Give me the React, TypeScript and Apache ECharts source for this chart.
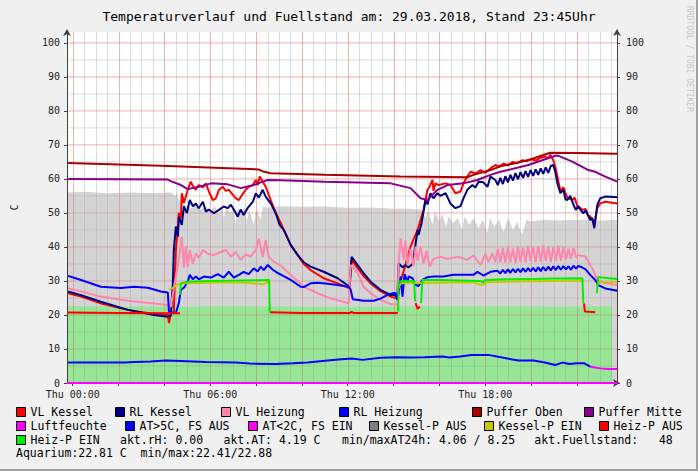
import React, { useEffect, useRef } from 'react';
import * as echarts from 'echarts';

const FONT = 'DejaVu Sans Mono';
const TITLE = 'Temperaturverlauf und Fuellstand am: 29.03.2018, Stand 23:45Uhr';
const X_MIN = -0.25;
const X_MAX = 23.75;
const Y_MAX = 103.2;
const xLabelHours = [0, 6, 12, 18];
const xTickHours = [0, 2, 4, 6, 8, 10, 12, 14, 16, 18, 20, 22];
const dayName = 'Thu';

type P = [number, number | null];

const grayArea: P[] = [[-0.25,56.0],[0.5,56.2],[1.5,55.8],[2.5,56.0],[3.5,55.9],[4.3,56.0],[4.45,55.0],[4.55,56.0],[4.65,53.0],[4.75,55.5],[4.85,52.5],[5.0,52.0],[5.2,51.5],[5.4,52.5],[5.6,51.0],[5.8,52.0],[6.0,50.5],[6.2,52.0],[6.4,49.5],[6.5,52.0],[6.6,48.5],[6.7,51.5],[6.9,50.0],[7.0,52.0],[7.1,47.0],[7.2,51.5],[7.4,50.0],[7.5,52.0],[7.6,47.5],[7.7,51.0],[7.9,46.5],[8.0,51.5],[8.2,48.0],[8.3,52.0],[8.5,51.5],[9.0,52.0],[10.0,51.8],[11.0,51.9],[12.0,51.5],[13.0,51.6],[14.0,51.2],[14.5,51.3],[15.2,51.0],[15.4,48.5],[15.5,51.0],[15.7,46.5],[15.8,50.5],[16.0,47.5],[16.1,50.0],[16.3,46.0],[16.4,49.0],[16.6,47.0],[16.8,48.5],[17.0,45.0],[17.1,49.0],[17.3,46.5],[17.5,48.5],[17.7,45.5],[17.9,48.0],[18.1,44.0],[18.2,48.5],[18.4,46.0],[18.6,48.0],[18.8,44.5],[19.0,48.5],[19.2,45.0],[19.4,47.5],[19.6,43.5],[19.8,48.0],[20.0,47.5],[20.5,48.0],[21.0,47.8],[22.0,48.0],[23.0,47.8],[23.76,48.0]];

const greenArea: P[] = [[-0.25,22.6],[2.0,22.5],[4.5,22.4],[6.0,22.6],[9.0,22.5],[12.0,22.4],[15.0,22.6],[18.0,22.6],[21.0,22.5],[23.54,22.6]];

const vlKessel: P[] = [[-0.20,26.4],[0.36,25.4],[1.23,23.4],[2.10,22.0],[2.41,21.5],[3.54,20.3],[4.15,20.0],[4.20,17.6],[4.28,20.5],[4.41,20.6],[4.50,39.0],[4.59,46.0],[4.63,50.0],[4.72,48.5],[4.76,55.8],[4.85,52.9],[5.02,56.8],[5.15,59.2],[5.24,58.0],[5.37,56.8],[5.50,58.2],[5.68,57.5],[5.81,58.7],[5.94,56.3],[6.11,53.8],[6.24,54.2],[6.38,56.8],[6.55,57.7],[6.68,56.5],[6.81,56.8],[6.99,55.3],[7.12,54.3],[7.25,53.8],[7.42,55.6],[7.55,56.8],[7.68,57.7],[7.86,58.2],[7.99,59.7],[8.07,58.2],[8.16,60.7],[8.29,59.2],[8.42,57.7],[8.64,53.8],[8.86,50.0],[9.08,47.0],[9.21,45.0],[9.51,40.6],[9.82,37.6],[10.08,35.0],[10.38,33.2],[10.95,30.8],[11.56,29.3],[12.08,27.8],[12.17,36.2],[12.43,33.8],[12.69,31.5],[13.00,29.3],[13.43,27.0],[13.87,25.4],[14.17,24.8],[14.22,26.4],[14.31,30.0],[14.52,34.7],[14.74,40.1],[15.05,45.0],[15.31,51.0],[15.48,56.8],[15.57,57.7],[15.70,59.7],[15.74,56.5],[15.83,58.7],[15.96,58.2],[16.27,58.7],[16.48,58.2],[16.70,55.8],[16.92,56.3],[17.05,58.7],[17.22,60.7],[17.36,62.1],[17.57,61.6],[17.79,62.6],[18.01,61.8],[18.23,63.1],[18.44,64.1],[18.6,63.6],[18.8,64.5],[19.0,64.0],[19.2,65.0],[19.4,64.6],[19.6,65.5],[19.8,65.2],[20.0,65.8],[20.2,65.4],[20.4,66.2],[20.62,66.6],[20.75,66.0],[20.84,67.1],[20.97,65.5],[21.06,63.5],[21.15,60.7],[21.28,56.5],[21.41,57.5],[21.58,54.5],[21.80,53.8],[21.90,54.5],[22.02,52.0],[22.15,51.5],[22.24,50.9],[22.37,51.2],[22.47,49.4],[22.58,49.0],[22.67,48.2],[22.76,46.5],[22.89,51.4],[23.02,52.8],[23.24,53.3],[23.76,52.8]];

const rlKessel: P[] = [[-0.20,26.9],[0.36,25.8],[1.23,23.9],[2.41,21.5],[3.54,20.0],[4.15,19.5],[4.28,19.8],[4.37,29.4],[4.41,39.0],[4.50,46.0],[4.59,43.0],[4.63,48.9],[4.76,46.5],[4.85,51.9],[4.98,50.0],[5.11,53.8],[5.24,52.0],[5.37,52.8],[5.50,51.4],[5.68,53.3],[5.81,50.4],[5.94,51.0],[6.16,49.9],[6.38,50.9],[6.59,51.9],[6.77,51.4],[6.90,52.4],[7.03,51.0],[7.20,48.9],[7.33,51.0],[7.46,49.4],[7.64,51.5],[7.86,53.3],[7.99,55.8],[8.12,54.5],[8.29,56.8],[8.42,54.8],[8.64,52.8],[8.86,49.9],[9.03,46.5],[9.21,45.0],[9.51,40.6],[9.82,37.6],[10.08,35.5],[10.38,34.2],[10.95,32.7],[11.56,30.8],[12.08,28.3],[12.17,37.1],[12.43,34.7],[12.69,32.3],[13.00,29.8],[13.43,27.4],[13.87,25.9],[14.00,25.9],[14.17,25.4],[14.22,35.2],[14.39,34.0],[14.52,34.7],[14.65,34.0],[14.83,35.0],[14.92,39.1],[15.05,45.0],[15.09,43.5],[15.22,47.0],[15.31,50.4],[15.39,53.8],[15.48,52.5],[15.61,55.8],[15.74,54.3],[15.92,55.8],[16.05,55.0],[16.27,55.8],[16.48,52.8],[16.70,51.4],[16.92,52.0],[17.05,54.3],[17.22,56.8],[17.44,58.2],[17.57,57.5],[17.71,59.2],[17.92,59.0],[18.10,57.7],[18.23,60.7],[18.44,59.7],[18.55,58.2],[18.66,60.3],[18.77,58.5],[18.88,60.8],[18.99,59.0],[19.10,61.2],[19.21,59.5],[19.32,61.7],[19.43,59.9],[19.54,62.0],[19.65,60.3],[19.76,62.3],[19.87,60.6],[19.98,62.6],[20.09,60.9],[20.20,62.8],[20.31,61.2],[20.42,63.1],[20.53,61.5],[20.64,63.4],[20.75,61.8],[20.86,63.8],[20.97,64.1],[21.06,62.0],[21.15,58.7],[21.28,55.8],[21.41,56.8],[21.50,54.0],[21.58,53.8],[21.71,55.0],[21.85,52.4],[21.95,50.9],[22.06,52.0],[22.15,51.0],[22.28,49.9],[22.40,50.8],[22.47,49.5],[22.58,47.9],[22.67,48.5],[22.76,45.5],[22.89,52.4],[23.02,54.3],[23.24,54.8],[23.76,54.6]];

const vlHeizung: P[] = [[-0.20,27.9],[1.23,25.4],[2.41,24.2],[3.54,23.4],[4.15,22.9],[4.28,22.5],[4.50,31.3],[4.63,36.2],[4.76,43.0],[4.85,34.0],[4.94,40.1],[5.02,34.2],[5.11,39.1],[5.24,35.0],[5.37,38.1],[5.50,36.8],[5.68,39.1],[5.90,38.0],[6.16,37.6],[6.38,38.3],[6.68,39.1],[6.90,37.1],[7.12,38.5],[7.33,36.2],[7.55,37.8],[7.77,37.2],[7.99,39.1],[8.12,42.5],[8.29,37.0],[8.42,42.0],[8.55,37.1],[8.77,35.7],[9.08,34.5],[9.51,31.8],[10.08,28.3],[10.69,26.4],[11.25,24.9],[11.82,23.9],[12.04,23.4],[12.13,34.7],[12.43,32.3],[12.69,28.3],[13.00,26.4],[13.43,24.4],[13.87,23.2],[14.17,23.0],[14.22,35.2],[14.31,42.5],[14.44,36.2],[14.52,42.0],[14.61,34.5],[14.74,39.5],[14.87,34.2],[14.96,40.1],[15.05,36.0],[15.18,40.1],[15.31,35.0],[15.44,38.8],[15.57,34.2],[15.74,36.5],[16.05,37.1],[16.35,36.5],[16.79,37.1],[17.22,36.2],[17.49,37.5],[17.79,34.7],[18.01,38.0],[18.14,35.5],[18.31,38.2],[18.44,35.5],[18.55,39.5],[18.66,35.5],[18.77,39.8],[18.88,35.3],[18.99,40.0],[19.10,35.5],[19.21,39.6],[19.32,35.2],[19.43,40.1],[19.54,35.6],[19.65,39.8],[19.76,35.4],[19.87,40.3],[19.98,35.8],[20.09,40.0],[20.20,35.5],[20.31,40.2],[20.42,35.7],[20.53,40.4],[20.64,35.9],[20.75,40.1],[20.86,35.6],[20.97,39.9],[21.08,35.8],[21.19,40.3],[21.30,36.0],[21.41,40.0],[21.52,36.2],[21.63,39.5],[21.74,36.5],[21.85,39.8],[21.96,37.0],[22.06,37.6],[22.37,37.2],[22.67,33.7],[22.89,30.3],[23.24,29.3],[23.76,28.8]];

const rlHeizung: P[] = [[-0.20,31.5],[0.36,30.3],[1.23,28.3],[2.10,27.9],[2.67,28.3],[3.28,28.0],[3.85,26.9],[4.15,26.6],[4.20,20.8],[4.50,20.6],[4.63,23.5],[4.72,27.4],[4.85,28.0],[5.02,29.8],[5.11,31.8],[5.24,30.5],[5.37,31.3],[5.50,30.5],[5.72,31.3],[6.03,31.0],[6.33,32.0],[6.59,31.0],[6.81,32.7],[7.03,31.0],[7.25,31.8],[7.46,32.7],[7.68,32.0],[7.90,33.7],[8.07,32.8],[8.20,34.2],[8.34,33.2],[8.51,34.7],[8.73,33.3],[8.95,32.3],[9.08,31.9],[9.51,30.3],[9.95,28.3],[10.08,28.2],[10.38,29.3],[10.69,29.5],[11.12,29.2],[11.56,28.8],[12.04,28.3],[12.13,27.4],[12.22,24.6],[12.69,24.2],[13.13,24.2],[13.43,24.8],[13.74,25.9],[14.00,26.5],[14.09,26.4],[14.17,24.4],[14.31,31.3],[14.39,25.4],[14.48,32.0],[14.61,29.5],[14.65,31.3],[14.83,30.8],[14.96,28.8],[15.09,28.5],[15.26,30.3],[15.48,31.1],[15.74,31.3],[16.18,31.3],[16.61,31.8],[17.05,31.8],[17.49,31.8],[17.66,32.7],[17.92,31.6],[18.23,32.7],[18.53,33.0],[18.66,32.2],[18.77,33.3],[18.88,32.3],[18.99,33.4],[19.10,32.4],[19.21,33.5],[19.32,32.5],[19.43,33.6],[19.54,32.6],[19.65,33.7],[19.76,32.7],[19.87,33.8],[19.98,32.8],[20.09,33.9],[20.20,32.8],[20.31,34.0],[20.42,32.9],[20.53,34.1],[20.64,33.0],[20.75,34.2],[20.86,33.1],[20.97,34.3],[21.08,33.2],[21.19,34.4],[21.30,33.3],[21.41,34.4],[21.52,33.4],[21.63,34.3],[21.74,33.3],[21.85,34.5],[21.96,33.6],[22.06,34.4],[22.15,34.2],[22.37,33.5],[22.58,31.8],[22.80,30.3],[22.93,28.8],[23.24,27.8],[23.76,27.1]];

const pufferOben: P[] = [[-0.20,64.7],[3.85,63.9],[8.10,62.8],[8.30,62.2],[8.64,61.7],[11.0,61.2],[14.30,60.7],[17.20,60.5],[17.49,61.2],[18.23,62.6],[18.66,63.7],[19.30,64.6],[20.00,65.8],[20.60,67.2],[20.84,67.7],[22.0,67.6],[23.76,67.4]];

const pufferMitte: P[] = [[-0.20,60.0],[4.15,59.8],[4.30,59.3],[4.72,58.2],[5.02,57.0],[5.45,57.6],[6.03,58.7],[6.77,58.4],[7.33,57.3],[7.90,58.2],[8.20,59.0],[8.51,59.7],[9.08,59.6],[11.0,59.2],[13.87,58.7],[14.74,57.3],[15.18,54.3],[15.48,53.8],[15.92,56.8],[16.35,58.2],[17.05,58.7],[17.66,59.7],[18.23,61.2],[18.66,62.1],[19.88,64.1],[21.06,66.8],[21.20,66.8],[21.80,65.1],[22.50,62.6],[22.80,62.1],[23.24,60.7],[23.76,59.2]];

const luftfeuchte: P[] = [[-0.25,0.0],[12.0,0.0],[23.76,0.0]];

const atWarm: P[] = [[-0.20,6.0],[1.2,6.0],[2.32,6.0],[2.67,6.2],[3.4,6.3],[4.06,6.6],[5.0,6.4],[5.81,6.2],[7.12,6.0],[7.73,5.7],[8.86,5.6],[9.6,5.8],[10.25,6.0],[10.90,6.5],[11.6,6.9],[12.17,7.2],[12.65,6.8],[13.43,7.4],[14.09,7.6],[14.7,7.5],[15.35,7.6],[16.13,7.8],[16.44,7.5],[16.9,7.8],[17.40,8.2],[18.19,8.2],[18.8,7.4],[19.45,6.6],[20.11,6.6],[20.6,6.0],[21.06,5.3],[21.37,6.0],[21.67,5.6],[22.0,5.8],[22.33,5.8],[22.58,4.8]];

const atCold: P[] = [[22.58,4.8],[23.02,4.3],[23.40,4.1],[23.76,4.1]];

const kesselPAus: P[] = [];

const kesselPEin: P[] = [[4.20,27.4],[4.37,28.0],[4.59,29.0],[4.72,29.3],[5.5,29.4],[6.5,29.6],[7.5,29.5],[8.1,29.2],[8.3,29.0],[8.5,29.6],[8.6,29.7],[8.62,null],[14.22,28.0],[14.31,29.3],[15.0,29.4],[16.0,29.5],[17.5,29.6],[17.79,28.8],[17.92,29.0],[18.1,29.6],[19.0,29.8],[20.0,29.9],[21.0,30.0],[22.0,30.1],[22.30,30.1],[22.32,null],[22.89,29.0],[23.0,29.6],[23.76,29.6]];

const heizPAus: P[] = [[-0.25,20.7],[2.0,20.6],[4.15,20.5],[4.68,20.5],[4.70,null],[8.60,20.8],[10.0,20.6],[12.1,20.6],[12.17,20.9],[12.25,20.6],[14.19,20.6],[14.21,null],[14.96,23.5],[15.05,21.8],[15.15,22.5],[15.18,null],[22.31,23.4],[22.35,21.0],[22.80,20.8],[22.82,null]];

const heizPEin: P[] = [[4.68,26.0],[4.72,29.3],[5.0,29.8],[6.0,30.0],[7.0,30.1],[8.0,30.2],[8.57,30.3],[8.60,20.8],[8.62,null],[14.20,21.0],[14.22,29.8],[14.40,30.0],[14.90,29.9],[14.94,24.0],[14.96,null],[15.20,23.5],[15.26,30.3],[16.0,30.3],[17.79,30.0],[17.9,29.5],[18.0,30.3],[19.0,30.5],[20.0,30.6],[21.0,30.7],[22.24,30.8],[22.28,23.4],[22.30,null],[22.87,26.4],[22.93,31.2],[23.1,31.0],[23.76,30.6]];

const infoTexts = ['akt.rH: 0.00', 'akt.AT: 4.19 C', 'min/maxAT24h: 4.06 / 8.25', 'akt.Fuellstand:   48'];
const aquariumText = 'Aquarium:22.81 C  min/max:22.41/22.88';

const COLORS: Record<string, string> = {
  'VL Kessel': '#ff0000',
  'RL Kessel': '#000080',
  'VL Heizung': '#ff85aa',
  'RL Heizung': '#0000ff',
  'Puffer Oben': '#aa0000',
  'Puffer Mitte': '#880088',
  'Luftfeuchte': '#ff00ff',
  'AT>5C, FS AUS': '#0000ff',
  'AT<2C, FS EIN': '#ff00ff',
  'Kessel-P AUS': '#808080',
  'Kessel-P EIN': '#c8c800',
  'Heiz-P AUS': '#ff0000',
  'Heiz-P EIN': '#00f000',
};

const LINES: [string, P[]][] = [
  ['VL Kessel', vlKessel],
  ['RL Kessel', rlKessel],
  ['VL Heizung', vlHeizung],
  ['RL Heizung', rlHeizung],
  ['Puffer Oben', pufferOben],
  ['Puffer Mitte', pufferMitte],
  ['Luftfeuchte', luftfeuchte],
  ['AT>5C, FS AUS', atWarm],
  ['AT<2C, FS EIN', atCold],
  ['Kessel-P AUS', kesselPAus],
  ['Kessel-P EIN', kesselPEin],
  ['Heiz-P AUS', heizPAus],
  ['Heiz-P EIN', heizPEin],
];

// legend layout (name, left x, row center y)
const LEGEND_LAYOUT: [string, number, number][] = [
  ['VL Kessel', 16, 412], ['RL Kessel', 115, 412], ['VL Heizung', 221, 412], ['RL Heizung', 339, 412], ['Puffer Oben', 472, 412], ['Puffer Mitte', 584, 412],
  ['Luftfeuchte', 16, 426], ['AT>5C, FS AUS', 125, 426], ['AT<2C, FS EIN', 248, 426], ['Kessel-P AUS', 369, 426], ['Kessel-P EIN', 484, 426], ['Heiz-P AUS', 599, 426],
  ['Heiz-P EIN', 16, 440],
];
const INFO_X = [120, 223.5, 342, 534.3];

// grid: opaque layer below the areas plus a light translucent layer above them
const MINOR_UNDER = '#efefef';
const MAJOR_UNDER = '#fadcdc';
const MINOR_OVER = 'rgba(0,0,0,0.08)';
const MAJOR_OVER = 'rgba(210,0,0,0.20)';

function verticalGrid(name: string, data: number[][], color: string, z: number) {
  return {
    name, type: 'custom', data, z, silent: true, clip: false,
    encode: { x: 0, y: 1 },
    renderItem: (params: any, api: any) => {
      const a = api.coord([api.value(0), 0]);
      const b = api.coord([api.value(0), Y_MAX]);
      return { type: 'rect', shape: { x: Math.round(a[0]), y: b[1], width: 1, height: a[1] - b[1] }, style: { fill: color } };
    },
  };
}

function horizontalGrid(name: string, values: number[], color: string, z: number) {
  const data: P[] = [];
  values.forEach((v) => {
    data.push([X_MIN, v], [X_MAX, v], [X_MAX, null]);
  });
  return {
    name, type: 'line', data, z, silent: true, showSymbol: false, symbol: 'none', connectNulls: false,
    emphasis: { disabled: true },
    lineStyle: { width: 1, color }, itemStyle: { color },
  };
}

function buildOption() {
  const minorV: number[][] = [];
  const majorV: number[][] = [];
  for (let h = 0; h < X_MAX; h += 0.5) (h % 2 === 0 ? majorV : minorV).push([h, 1]);
  const minorH: number[] = [];
  const majorH: number[] = [];
  for (let v = 5; v <= 100; v += 5) (v % 10 === 0 ? majorH : minorH).push(v);

  const axisLineBase = { show: true, lineStyle: { color: '#404040', width: 1 }, symbol: ['none', 'arrow'], symbolSize: [6, 7], symbolOffset: [0, 3] };

  const labelBase = {
    fontFamily: FONT, fontSize: 10, color: '#222',
    showMaxLabel: false,
    formatter: (v: number) => (Math.abs(v % 10) < 1e-6 ? String(v) : ''),
  };

  const series: any[] = [
    verticalGrid('Raster V minor u', minorV, MINOR_UNDER, 0.3),
    horizontalGrid('Raster H minor u', minorH, MINOR_UNDER, 0.3),
    verticalGrid('Raster V major u', majorV, MAJOR_UNDER, 0.35),
    horizontalGrid('Raster H major u', majorH, MAJOR_UNDER, 0.35),
    {
      name: 'Bereich Kessel', type: 'line', data: grayArea, z: 0.5, silent: true, showSymbol: false, symbol: 'none',
      lineStyle: { width: 0, color: '#d4d4d4' }, itemStyle: { color: '#d4d4d4' }, areaStyle: { color: '#d4d4d4', opacity: 1 },
    },
    {
      name: 'Bereich Fuellstand', type: 'line', data: greenArea, z: 0.5, silent: true, showSymbol: false, symbol: 'none',
      lineStyle: { width: 0, color: '#98e598' }, itemStyle: { color: '#98e598' }, areaStyle: { color: '#98e598', opacity: 1 },
    },
    verticalGrid('Raster V minor', minorV, MINOR_OVER, 1.5),
    horizontalGrid('Raster H minor', minorH, MINOR_OVER, 1.5),
    verticalGrid('Raster V major', majorV, MAJOR_OVER, 1.6),
    horizontalGrid('Raster H major', majorH, MAJOR_OVER, 1.6),
    ...LINES.map(([name, data]) => ({
      name, type: 'line', data, z: 3, showSymbol: false, symbol: 'none', connectNulls: false,
      emphasis: { disabled: true },
      lineStyle: { width: 2, color: COLORS[name] }, itemStyle: { color: COLORS[name] },
    })),
  ];

  const legend = LEGEND_LAYOUT.map(([name, x, cy]) => ({
    data: [name], left: x, top: cy - 6, padding: 0, icon: 'rect', itemWidth: 9, itemHeight: 9,
    selectedMode: false,
    itemStyle: { borderColor: '#000', borderWidth: 1 },
    textStyle: { fontFamily: FONT, fontSize: 11.5, color: '#000' },
  }));

  const textEl = (t: string, x: number, y: number) => ({
    type: 'text', x, y, silent: true,
    style: { text: t, fontFamily: FONT, fontSize: 11.5, fill: '#000', align: 'left', verticalAlign: 'middle', textAlign: 'left', textVerticalAlign: 'middle' },
  });

  const graphic: any[] = [
    ...infoTexts.map((t, i) => textEl(t, INFO_X[i], 440)),
    textEl(aquariumText, 16, 453),
    {
      type: 'text', x: 689, y: 6, rotation: -Math.PI / 2, silent: true,
      style: { text: 'RRDTOOL / TOBI OETIKER', fontFamily: FONT, fontSize: 8, fill: '#c8c8c8', align: 'left', verticalAlign: 'middle', textAlign: 'left', textVerticalAlign: 'middle' },
    },
    { type: 'rect', silent: true, shape: { x: 696, y: 0, width: 2, height: 471 }, style: { fill: '#a0a0a0' } },
    { type: 'rect', silent: true, shape: { x: 0, y: 469, width: 698, height: 2 }, style: { fill: '#a0a0a0' } },
  ];

  return {
    animation: false,
    backgroundColor: '#f0f0f0',
    textStyle: { fontFamily: FONT },
    title: {
      text: TITLE, left: 'center', top: 10, padding: 0,
      textStyle: { fontFamily: FONT, fontSize: 13, fontWeight: 'normal', color: '#000' },
    },
    grid: { left: 67, right: 81, top: 32, bottom: 88, show: true, backgroundColor: '#ffffff', borderWidth: 0, containLabel: false, outerBoundsMode: 'none' },
    xAxis: {
      type: 'value', min: X_MIN, max: X_MAX, z: 2,
      axisLine: { ...axisLineBase, onZero: false },
      axisTick: { show: true, customValues: xTickHours, length: 3, lineStyle: { color: '#404040' } },
      axisLabel: {
        customValues: xLabelHours, fontFamily: FONT, fontSize: 10, color: '#222', margin: 6,
        formatter: (v: number) => `${dayName} ${String(Math.round(v)).padStart(2, '0')}:00`,
      },
      splitLine: { show: false },
    },
    yAxis: [
      {
        type: 'value', min: 0, max: Y_MAX, interval: 10, z: 2,
        position: 'left', name: 'C', nameLocation: 'middle', nameGap: 48, nameRotate: 90,
        nameTextStyle: { fontFamily: FONT, fontSize: 10, color: '#222' },
        axisLine: { ...axisLineBase, onZero: false },
        axisTick: { show: true, length: 3, lineStyle: { color: '#404040' } },
        axisLabel: { ...labelBase, margin: 7 },
        splitLine: { show: false },
      },
      {
        type: 'value', min: 0, max: Y_MAX, interval: 10, z: 2,
        position: 'right',
        axisLine: { ...axisLineBase, onZero: false },
        axisTick: { show: true, length: 3, lineStyle: { color: '#404040' } },
        axisLabel: { ...labelBase, margin: 9 },
        splitLine: { show: false },
      },
    ],
    legend,
    graphic,
    series,
  };
}

export default function App() {
  const ref = useRef<HTMLDivElement>(null);
  useEffect(() => {
    document.body.style.margin = '0';
    if (!ref.current) return;
    const chart = echarts.init(ref.current, null, { renderer: 'svg' });
    chart.setOption(buildOption() as any);
    return () => chart.dispose();
  }, []);
  return <div ref={ref} style={{ position: 'absolute', left: 0, top: 0, width: 698, height: 471 }} />;
}
